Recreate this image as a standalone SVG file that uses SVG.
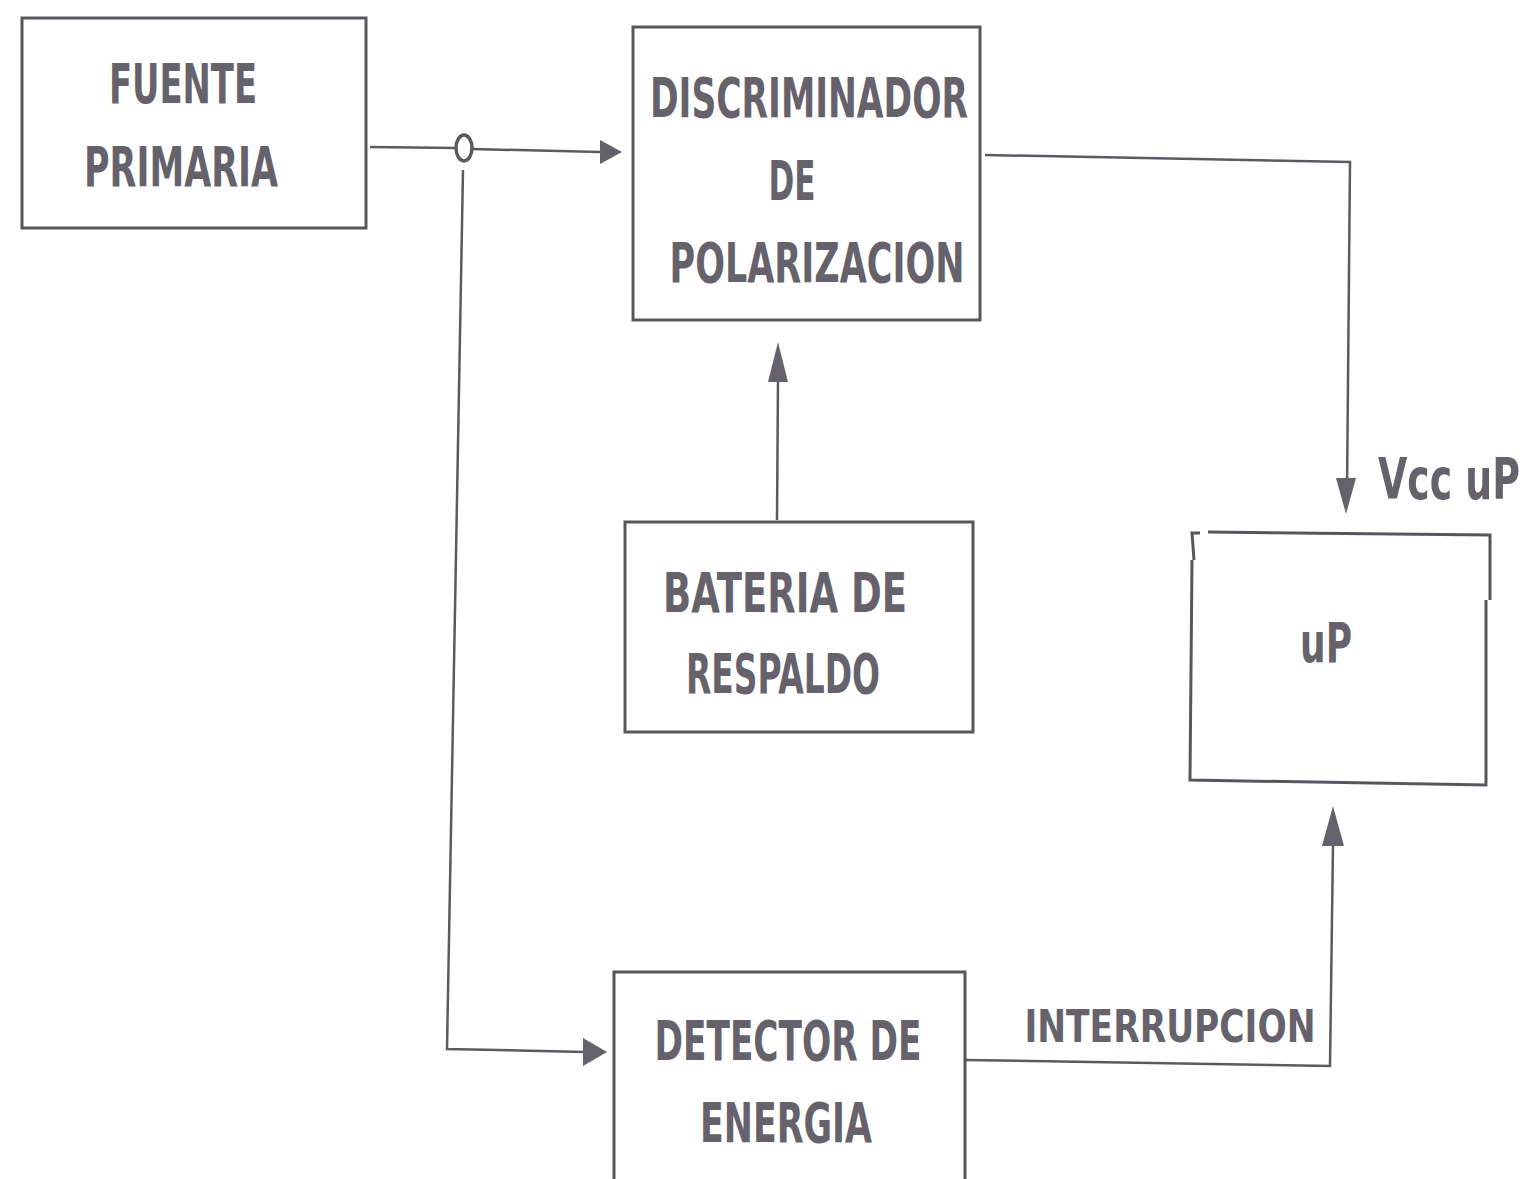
<svg xmlns="http://www.w3.org/2000/svg" width="1531" height="1179" viewBox="0 0 1531 1179">
<style>
.box{fill:none;stroke:#58565c;stroke-width:3}
.ln{fill:none;stroke:#5c5a60;stroke-width:2.5}
.t{font-family:"DejaVu Sans Condensed","Liberation Sans Narrow","Liberation Sans",sans-serif;font-weight:bold;fill:#66626c}
</style>
<rect width="1531" height="1179" fill="#ffffff"/>
<g id="connectors">
<path class="ln" d="M370,147 L456,148"/>
<ellipse cx="464" cy="148" rx="8" ry="13" fill="none" stroke="#5c5a60" stroke-width="3.5"/>
<path class="ln" d="M472,149 L600,152"/>
<path d="M600,140 L622,152 L600,164 Z" fill="#66626c"/>
<path class="ln" d="M463,170 L447,1049 L585,1052"/>
<path d="M583,1038 L607,1052 L583,1066 Z" fill="#66626c"/>
<path class="ln" d="M777,520 L778,380"/>
<path d="M768,382 L778,342 L788,382 Z" fill="#66626c"/>
<path class="ln" d="M985,155 L1350,162 L1347,490"/>
<path d="M1336,478 L1346,514 L1356,478 Z" fill="#66626c"/>
<path class="ln" d="M965,1060 L1330,1066 L1333,845"/>
<path d="M1322,846 L1333,806 L1344,846 Z" fill="#66626c"/>
</g>
<g id="fuente">
<rect class="box" x="22" y="18" width="344" height="210"/>
<text class="t" x="183" y="103" font-size="56" text-anchor="middle" textLength="148" lengthAdjust="spacingAndGlyphs">FUENTE</text>
<text class="t" x="181" y="186" font-size="56" text-anchor="middle" textLength="194" lengthAdjust="spacingAndGlyphs">PRIMARIA</text>
</g>
<g id="discriminador">
<rect class="box" x="633" y="27" width="347" height="293"/>
<text class="t" x="809" y="117" font-size="56" text-anchor="middle" textLength="318" lengthAdjust="spacingAndGlyphs">DISCRIMINADOR</text>
<text class="t" x="792" y="200" font-size="56" text-anchor="middle" textLength="47" lengthAdjust="spacingAndGlyphs">DE</text>
<text class="t" x="817" y="282" font-size="56" text-anchor="middle" textLength="295" lengthAdjust="spacingAndGlyphs">POLARIZACION</text>
</g>
<g id="bateria">
<rect class="box" x="625" y="522" width="348" height="210"/>
<text class="t" x="785" y="612" font-size="56" text-anchor="middle" textLength="244" lengthAdjust="spacingAndGlyphs">BATERIA DE</text>
<text class="t" x="783" y="693" font-size="56" text-anchor="middle" textLength="194" lengthAdjust="spacingAndGlyphs">RESPALDO</text>
</g>
<g id="up">
<path class="box" d="M1194,560 L1192,533 L1200,533 M1208,532 L1490,535 L1490,600 M1486,600 L1486,785 L1190,780 L1192,560"/>
<text class="t" x="1326" y="662" font-size="56" text-anchor="middle" textLength="52" lengthAdjust="spacingAndGlyphs">uP</text>
<text class="t" transform="translate(1378,499) scale(1,1.3)" x="0" y="0" font-size="44" textLength="142" lengthAdjust="spacingAndGlyphs">Vcc uP</text>
</g>
<g id="detector">
<rect class="box" x="614" y="972" width="351" height="210"/>
<text class="t" x="788" y="1060" font-size="56" text-anchor="middle" textLength="267" lengthAdjust="spacingAndGlyphs">DETECTOR DE</text>
<text class="t" x="786" y="1142" font-size="56" text-anchor="middle" textLength="172" lengthAdjust="spacingAndGlyphs">ENERGIA</text>
</g>
<text class="t" x="1170" y="1042" font-size="44" text-anchor="middle" textLength="291" lengthAdjust="spacingAndGlyphs">INTERRUPCION</text>
</svg>
